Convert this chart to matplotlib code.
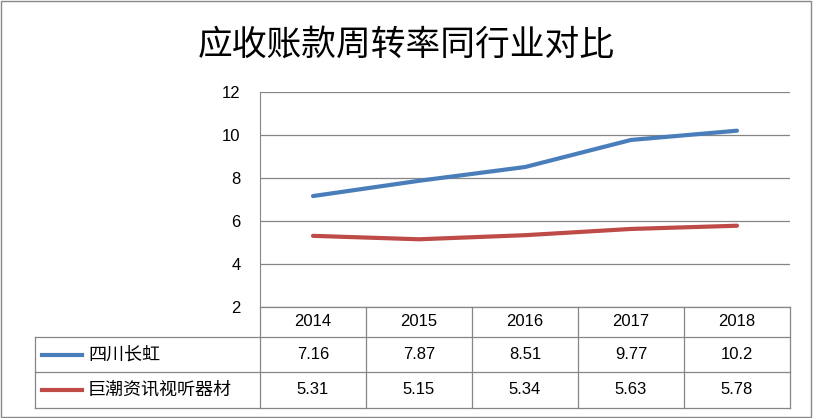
import matplotlib
matplotlib.use("Agg")
import matplotlib.pyplot as plt
from matplotlib.lines import Line2D
from matplotlib.patches import Rectangle

plt.rcParams["font.family"] = ["Noto Sans CJK JP", "Noto Sans CJK SC", "Noto Sans CJK TC", "DejaVu Sans"]

years = ["2014", "2015", "2016", "2017", "2018"]
series_names = ["四川长虹", "巨潮资讯视听器材"]
changhong = [7.16, 7.87, 8.51, 9.77, 10.2]
juchao = [5.31, 5.15, 5.34, 5.63, 5.78]
colors = ["#4a7ebb", "#be4b48"]
title = "应收账款周转率同行业对比"

W, H = 813, 418
fig = plt.figure(figsize=(W / 100, H / 100), dpi=100)
fig.patches.append(Rectangle((0.001, 0.002), 0.997, 0.995, transform=fig.transFigure,
                             fill=False, edgecolor="#888888", lw=1))

def fx(px): return px / W
def fy(py): return 1 - py / H

L, R, T, B = 260, 790, 92, 307
ax = fig.add_axes([fx(L), fy(B), fx(R) - fx(L), fy(T) - fy(B)])
xs = list(range(len(years)))
for vals, c in zip([changhong, juchao], colors):
    ax.plot(xs, vals, color=c, lw=3, solid_capstyle="round")
ax.set_xlim(-0.5, len(years) - 0.5)
ax.set_ylim(2, 12)
ax.set_yticks([2, 4, 6, 8, 10, 12])
ax.yaxis.grid(True, color="#868686", lw=0.9)
ax.set_axisbelow(True)
ax.set_xticks([])
for s in ["top", "right", "bottom"]:
    ax.spines[s].set_visible(False)
ax.spines["left"].set_color("#868686")
ax.tick_params(axis="y", length=0, labelsize=12, pad=14)
for t in ax.get_yticklabels():
    t.set_fontfamily("Liberation Sans")

fig.text(0.5, fy(45), title, ha="center", va="center", fontsize=25)

# data table
rows_y = [307, 337, 372, 408]
TL = 35
lc = "#868686"
def hline(py, x0, x1):
    fig.add_artist(Line2D([fx(x0), fx(x1)], [fy(py), fy(py)], color=lc, lw=0.9))
def vline(px, y0, y1):
    fig.add_artist(Line2D([fx(px), fx(px)], [fy(y0), fy(y1)], color=lc, lw=0.9))
hline(rows_y[0], L, R)
for py in rows_y[1:]:
    hline(py, TL, R)
vline(TL, rows_y[1], rows_y[3])
colw = (R - L) / len(years)
for i in range(len(years) + 1):
    vline(L + i * colw, rows_y[0], rows_y[3])
for i, y in enumerate(years):
    fig.text(fx(L + (i + 0.5) * colw), fy((rows_y[0] + rows_y[1]) / 2), y,
             ha="center", va="center", fontsize=12, family="Liberation Sans")
for r, (name, vals, c) in enumerate(zip(series_names, [changhong, juchao], colors)):
    cy = (rows_y[r + 1] + rows_y[r + 2]) / 2
    fig.add_artist(Line2D([fx(42), fx(82)], [fy(cy), fy(cy)], color=c, lw=3))
    fig.text(fx(88), fy(cy), name, ha="left", va="center", fontsize=13)
    for i, v in enumerate(vals):
        fig.text(fx(L + (i + 0.5) * colw), fy(cy), f"{v:g}",
                 ha="center", va="center", fontsize=12, family="Liberation Sans")

fig.savefig("out.png", dpi=100)
